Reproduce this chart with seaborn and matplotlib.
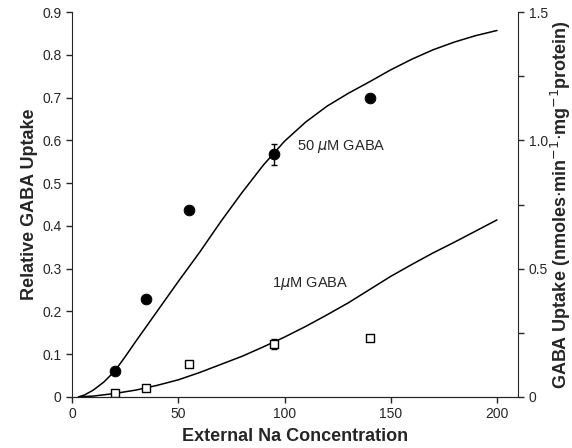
import numpy as np
import pandas as pd
import matplotlib
matplotlib.use("Agg")
import matplotlib.pyplot as plt
import seaborn as sns

# measured points
na_conc = [20, 35, 55, 95, 140]
uptake_50 = [0.060, 0.228, 0.438, 0.567, 0.700]
err_50 = [0, 0, 0, 0.025, 0]
uptake_1 = [0.009, 0.021, 0.078, 0.123, 0.138]
err_1 = [0, 0, 0, 0.012, 0]

# fitted curves
curve_x = [3, 6, 10, 15, 20, 25, 30, 40, 50, 60, 70, 80, 90, 100,
           110, 120, 130, 140, 150, 160, 170, 180, 190, 200]
curve_50 = [0.0, 0.005, 0.016, 0.035, 0.060, 0.094, 0.130, 0.200, 0.270, 0.338, 0.410, 0.478, 0.542, 0.598,
            0.643, 0.680, 0.710, 0.737, 0.765, 0.790, 0.812, 0.830, 0.845, 0.857]
curve_1 = [0.0, 0.001, 0.002, 0.005, 0.008, 0.012, 0.016, 0.027, 0.040, 0.057, 0.076, 0.095, 0.117, 0.140,
           0.165, 0.192, 0.220, 0.251, 0.282, 0.310, 0.337, 0.362, 0.388, 0.414]

right_ticks = [0, 0.5, 1.0, 1.5]
right_ticklabels = ["0", "0.5", "1.0", "1.5"]
left_ticks = [0, 0.1, 0.2, 0.3, 0.4, 0.5, 0.6, 0.7, 0.8, 0.9]
left_ticklabels = ["0", "0.1", "0.2", "0.3", "0.4", "0.5", "0.6", "0.7", "0.8", "0.9"]

sns.set_style("ticks")
plt.rcParams["font.family"] = ["Liberation Sans", "DejaVu Sans"]
plt.rcParams["mathtext.fontset"] = "dejavusans"

curves = pd.DataFrame({"x": curve_x, "c50": curve_50, "c1": curve_1})
points = pd.DataFrame({"x": na_conc, "u50": uptake_50, "u1": uptake_1})

fig = plt.figure(figsize=(5.72, 4.48), dpi=100)
ax = fig.add_axes([0.126, 0.114, 0.78, 0.859])

sns.lineplot(data=curves, x="x", y="c50", ax=ax, color="black", lw=1.1)
sns.lineplot(data=curves, x="x", y="c1", ax=ax, color="black", lw=1.1)

ax.errorbar(na_conc, uptake_50, yerr=err_50, fmt="none", ecolor="black",
            elinewidth=1, capsize=2.5, zorder=3)
ax.errorbar(na_conc, uptake_1, yerr=err_1, fmt="none", ecolor="black",
            elinewidth=1, capsize=2.5, zorder=3)
sns.scatterplot(data=points, x="x", y="u50", ax=ax, marker="o", s=60,
                color="black", edgecolor="black", zorder=4)
sns.scatterplot(data=points, x="x", y="u1", ax=ax, marker="s", s=26,
                color="white", edgecolor="black", linewidth=1, zorder=4)

ax.text(106, 0.585, r"50 $\mu$M GABA", fontsize=10.5, va="center")
ax.text(94, 0.266, r"1$\mu$M GABA", fontsize=10.5, va="center")

ax.set_xlim(0, 210)
ax.set_ylim(0, 0.9)
ax.set_xticks([0, 50, 100, 150, 200])
ax.set_yticks(left_ticks)
ax.set_yticklabels(left_ticklabels)
ax.tick_params(labelsize=10, length=4, width=1)
ax.set_xlabel("External Na Concentration", fontsize=13, fontweight="bold", labelpad=5)
ax.set_ylabel("Relative GABA Uptake", fontsize=13, fontweight="bold", labelpad=3)
ax.spines["top"].set_visible(False)
ax.spines["right"].set_visible(False)

ax2 = ax.twinx()
ax2.set_ylim(0, 1.5)
ax2.set_yticks(right_ticks)
ax2.set_yticklabels(right_ticklabels)
ax2.set_yticks([0.25, 0.75, 1.25], minor=True)
ax2.tick_params(which="both", labelsize=10, length=4, width=1)
ax2.spines["top"].set_visible(False)
ax2.spines["left"].set_visible(False)
ax2.set_ylabel("GABA Uptake (nmoles$\\cdot$min$^{-1}$$\\cdot$mg$^{-1}$protein)",
               fontsize=13, fontweight="bold", labelpad=1)

fig.savefig("out.png", dpi=100)
